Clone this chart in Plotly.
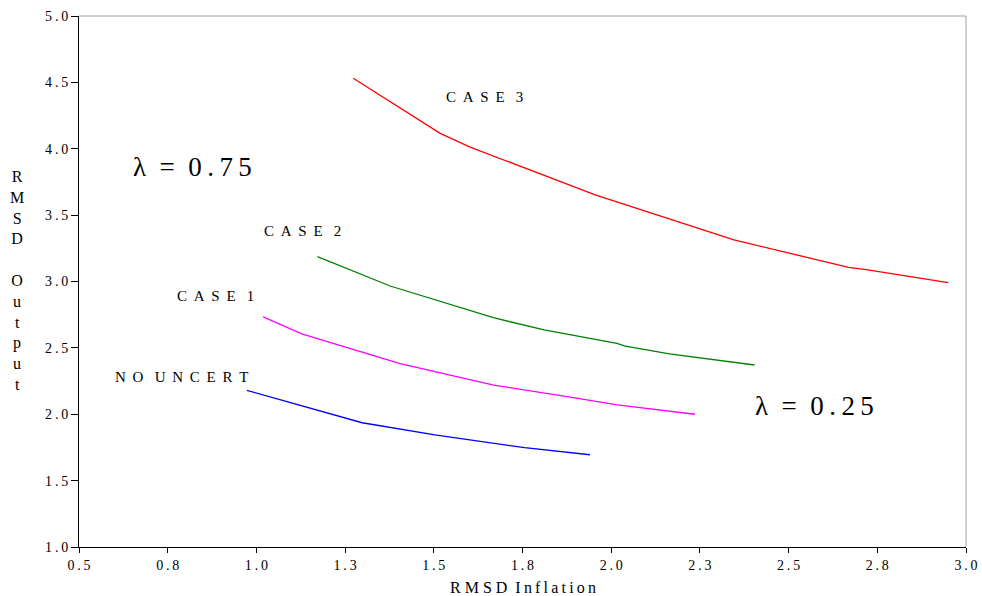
import plotly.graph_objects as go

# Data (RMSD Inflation vs RMSD Output)
no_uncert_x = [0.973, 1.298, 1.503, 1.587, 1.756, 1.940]
no_uncert_y = [2.180, 1.936, 1.844, 1.814, 1.748, 1.695]

case1_x = [1.019, 1.128, 1.405, 1.669, 1.876, 2.017, 2.236]
case1_y = [2.733, 2.605, 2.381, 2.220, 2.132, 2.070, 2.000]

case2_x = [1.172, 1.377, 1.668, 1.811, 2.016, 2.040, 2.164, 2.404]
case2_y = [3.187, 2.966, 2.727, 2.635, 2.534, 2.514, 2.454, 2.371]

case3_x = [1.273, 1.518, 1.604, 1.955, 2.346, 2.669, 2.714, 2.950]
case3_y = [4.531, 4.116, 4.011, 3.652, 3.313, 3.107, 3.092, 2.991]

x_tickvals = [0.5, 0.75, 1.0, 1.25, 1.5, 1.75, 2.0, 2.25, 2.5, 2.75, 3.0]
x_ticktext = ["0.5", "0.8", "1.0", "1.3", "1.5", "1.8", "2.0", "2.3", "2.5", "2.8", "3.0"]
y_tickvals = [1.0, 1.5, 2.0, 2.5, 3.0, 3.5, 4.0, 4.5, 5.0]
y_ticktext = ["1.0", "1.5", "2.0", "2.5", "3.0", "3.5", "4.0", "4.5", "5.0"]

SERIF = "Liberation Serif, Times New Roman, serif"
TH = "\u2009"
NB = "\u00a0"

def spaced(s, gap=TH, word_gap=None):
    if word_gap is None:
        word_gap = gap
    return word_gap.join(gap.join(list(w)) for w in s.split(" "))

fig = go.Figure()
for xs, ys, col, name in [
    (no_uncert_x, no_uncert_y, "#0000FF", "NO UNCERT"),
    (case1_x, case1_y, "#FF00FF", "CASE 1"),
    (case2_x, case2_y, "#008000", "CASE 2"),
    (case3_x, case3_y, "#FF0000", "CASE 3"),
]:
    fig.add_trace(go.Scatter(x=xs, y=ys, mode="lines", name=name,
                             line=dict(color=col, width=1.3)))

G = NB + TH
WG = NB + NB + NB
annotations = [
    dict(x=0.790, y=2.281, text=spaced("NO UNCERT", G, WG), size=15),
    dict(x=0.886, y=2.891, text=spaced("CASE 1", G, WG), size=15),
    dict(x=1.131, y=3.380, text=spaced("CASE 2", G, WG), size=15),
    dict(x=1.644, y=4.390, text=spaced("CASE 3", G, WG), size=15),
    dict(x=0.821, y=3.863, text="λ" + NB + NB + "=" + NB + NB + spaced("0.75", TH), size=27),
    dict(x=2.572, y=2.062, text="λ" + NB + NB + "=" + NB + NB + spaced("0.25", TH), size=27),
]
for a in annotations:
    fig.add_annotation(x=a["x"], y=a["y"], xref="x", yref="y", text=a["text"],
                       showarrow=False, font=dict(family=SERIF, size=a["size"], color="#000000"))

# stacked y-axis title
fig.add_annotation(x=-0.0699, y=0.501, xref="paper", yref="paper", xanchor="center",
                   text="R<br>M<br>S<br>D<br> <br>O<br>u<br>t<br>p<br>u<br>t",
                   showarrow=False, font=dict(family=SERIF, size=16, color="#000000"),
                   align="center")
# x-axis title
fig.add_annotation(x=0.5006, y=-0.0772, xref="paper", yref="paper", xanchor="center",
                   yanchor="middle",
                   text=spaced("RMSD", NB) + NB + NB + spaced("Inflation", TH),
                   showarrow=False, font=dict(family=SERIF, size=16, color="#000000"))

# gray top/right frame
fig.add_shape(type="line", xref="paper", yref="paper", x0=0, x1=1, y0=1, y1=1,
              line=dict(color="#a0a0a0", width=1))
fig.add_shape(type="line", xref="paper", yref="paper", x0=1, x1=1, y0=0, y1=1,
              line=dict(color="#a0a0a0", width=1))

fig.update_layout(
    width=982, height=596,
    margin=dict(l=79, r=16, t=16, b=49, autoexpand=False),
    paper_bgcolor="white", plot_bgcolor="white",
    showlegend=False,
    font=dict(family=SERIF, size=13, color="#000000"),
    xaxis=dict(range=[0.5, 3.0], tickvals=x_tickvals,
               ticktext=[spaced(t) for t in x_ticktext], automargin=False,
               showgrid=False, zeroline=False, showline=True, linecolor="#000000",
               linewidth=1, ticks="outside", ticklen=5, tickcolor="#000000",
               tickfont=dict(family=SERIF, size=14)),
    yaxis=dict(range=[1.0, 5.0], tickvals=y_tickvals,
               ticktext=[spaced(t) for t in y_ticktext], automargin=False,
               showgrid=False, zeroline=False, showline=True, linecolor="#000000",
               linewidth=1, ticks="outside", ticklen=7, tickcolor="#000000",
               tickfont=dict(family=SERIF, size=14)),
)

fig.write_html("out.html", config={"displayModeBar": False},
               post_script="document.body.style.margin='0';")
